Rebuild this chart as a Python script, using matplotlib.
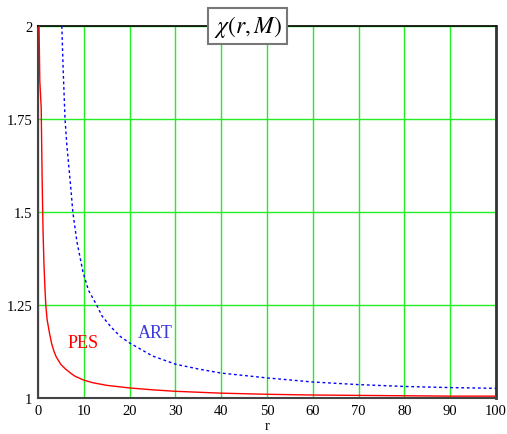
import numpy as np
import matplotlib
matplotlib.use("Agg")
import matplotlib.pyplot as plt

plt.rcParams["mathtext.fontset"] = "stix"

# PES curve (red, solid)
r_pes = [0.2, 0.4, 0.7, 0.9, 1.1, 1.3, 1.5, 1.7, 2.0, 2.5, 3.0, 3.5, 4.0,
         5, 6, 7, 8, 10, 12, 15, 20, 25, 30, 40, 50, 60, 70, 80, 90, 100]
chi_pes = [2.02, 1.85, 1.78, 1.59, 1.45, 1.36, 1.30, 1.25, 1.21, 1.175,
           1.145, 1.125, 1.11, 1.09, 1.078, 1.068, 1.059, 1.048, 1.041,
           1.034, 1.027, 1.022, 1.018, 1.013, 1.010, 1.008, 1.007, 1.006,
           1.005, 1.005]

# ART curve (blue, dotted)
r_art = [5.2, 5.5, 5.9, 6.3, 7.2, 7.6, 8.5, 9.8, 11, 12.8, 14, 16, 18, 20,
         25, 30, 35, 40, 50, 60, 70, 80, 90, 100]
chi_art = [2.0, 1.88, 1.75, 1.68, 1.56, 1.50, 1.42, 1.34, 1.29, 1.25, 1.22,
           1.19, 1.165, 1.148, 1.113, 1.091, 1.078, 1.067, 1.054, 1.043,
           1.036, 1.031, 1.028, 1.026]

x_ticks = [0, 10, 20, 30, 40, 50, 60, 70, 80, 90, 100]
y_ticks = [1, 1.25, 1.5, 1.75, 2]
y_labels = ["1", "1.25", "1.5", "1.75", "2"]

serif = ["Liberation Serif", "DejaVu Serif"]

fig = plt.figure(figsize=(5.07, 4.35), dpi=100)
ax = fig.add_axes([38/507, 1 - 399/435, (496 - 38)/507, (399 - 27)/435])

ax.plot(r_pes, chi_pes, color="red", lw=1.0, zorder=3)
ax.plot(r_art, chi_art, color="blue", lw=1.0, ls=(0, (2, 2)), zorder=3)

ax.set_xlim(0, 100)
ax.set_ylim(1, 2)
ax.set_xticks(x_ticks)
ax.set_yticks(y_ticks)
ax.set_xticklabels([str(t) for t in x_ticks], family=serif, fontsize=10.5)
ax.set_yticklabels(y_labels, family=serif, fontsize=10.5)
ax.tick_params(length=0, pad=4)
ax.grid(True, color="#22ee22", lw=1.0, zorder=1)

for side in ["left", "bottom"]:
    ax.spines[side].set_color("#444444")
    ax.spines[side].set_linewidth(1.5)
ax.spines["right"].set_color("#333333")
ax.spines["right"].set_linewidth(2)
ax.spines["top"].set_color("black")
ax.spines["top"].set_linewidth(1.2)

ax.set_xlabel("r", family=serif, fontsize=10.5, labelpad=2)

ax.text(9.8, 1.148, "PES", color="red", family=serif, fontsize=13,
        ha="center", va="center")
ax.text(25.5, 1.177, "ART", color="#3a3ad8", family=serif, fontsize=13,
        ha="center", va="center")

ax.text(0.458, 1.0, r"$\chi(r,M)$", transform=ax.transAxes, fontsize=17,
        ha="center", va="center", zorder=5,
        bbox=dict(boxstyle="square,pad=0.22", fc="white", ec="#777777", lw=1.5))

fig.savefig("out.png", dpi=100)
